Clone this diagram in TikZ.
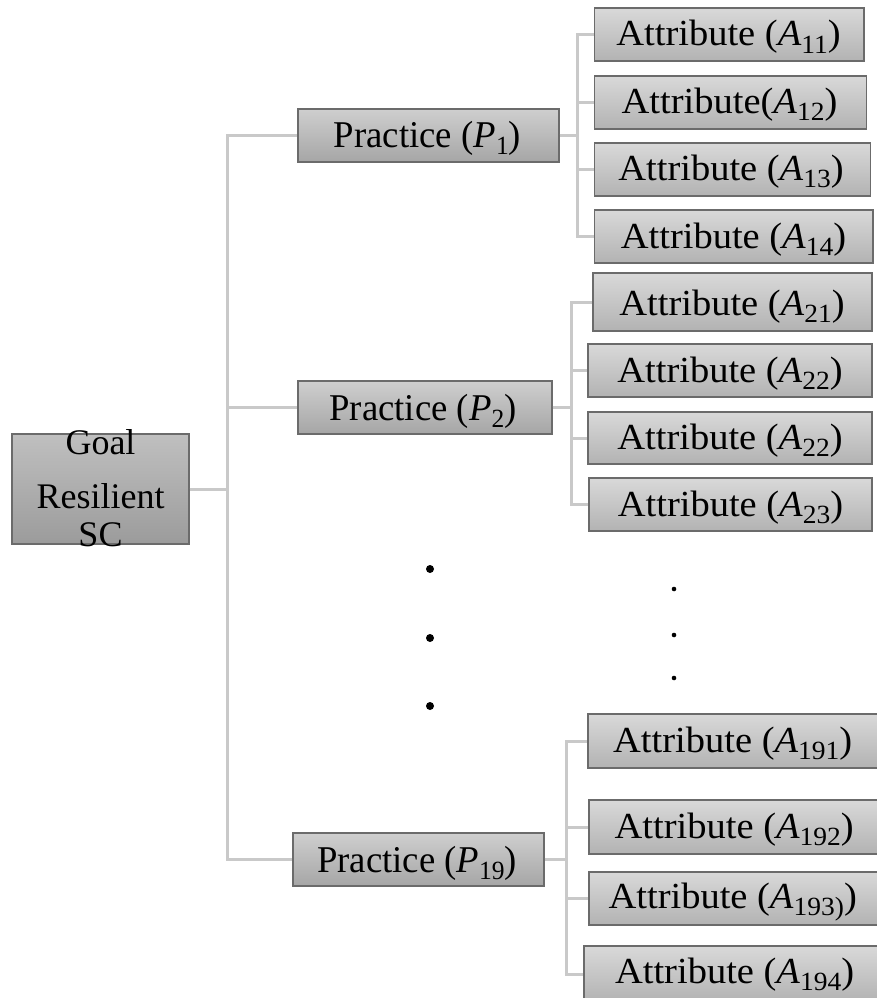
\documentclass[tikz,border=0pt]{standalone}
\usepackage{fontspec}
\usepackage{graphicx}
\setmainfont{Liberation Serif}
\newcommand\Sb[2]{\textit{#1}\raisebox{-0.2em}{\fontsize{25}{25}\selectfont #2}}
\newcommand\Ta[1]{\scalebox{1.1}[1.05]{#1}}
\newcommand\Tp[1]{\scalebox{1.02}[1.05]{#1}}
\begin{document}
\begin{tikzpicture}[x=1pt,y=-1pt,
  boxbase/.style={draw=black!58, line width=1.1pt, inner sep=0pt, rectangle},
  goalbox/.style={boxbase, top color=black!25, bottom color=black!39},
  pracbox/.style={boxbase, top color=black!19, bottom color=black!35},
  attrbox/.style={boxbase, top color=black!15, bottom color=black!30},
  txt/.style={inner sep=0pt, font=\fontsize{35}{40}\selectfont, anchor=base},
  ptxt/.style={inner sep=0pt, font=\fontsize{36}{40}\selectfont, anchor=base},
  goaltxt/.style={inner sep=0pt, font=\fontsize{36}{42}\selectfont, anchor=base},
  conn/.style={draw=black!21, line width=3pt}
]
\useasboundingbox (0,0) rectangle (877,998);
\clip (0,0) rectangle (877,998);

% boxes
\node[goalbox, minimum width=177pt, minimum height=110pt] (goal) at (100.5,489) {};
\node[pracbox, minimum width=261pt, minimum height=53pt] (p1) at (428.5,135.5) {};
\node[pracbox, minimum width=254pt, minimum height=53pt] (p2) at (425,407.5) {};
\node[pracbox, minimum width=251pt, minimum height=53pt] (p19) at (418.5,859.5) {};

\node[attrbox, minimum width=269.5pt, minimum height=53pt] (a11) at (729.25,34.5) {};
\node[attrbox, minimum width=272pt, minimum height=53pt] (a12) at (730.5,102.5) {};
\node[attrbox, minimum width=275.8pt, minimum height=53pt] (a13) at (732.4,169.5) {};
\node[attrbox, minimum width=278.5pt, minimum height=53pt] (a14) at (733.75,236.5) {};

\node[attrbox, minimum width=279pt, minimum height=58pt] (a21) at (732.5,302) {};
\node[attrbox, minimum width=284pt, minimum height=53pt] (a22) at (730,370.5) {};
\node[attrbox, minimum width=284pt, minimum height=52pt] (a22b) at (730,438) {};
\node[attrbox, minimum width=283pt, minimum height=53pt] (a23) at (730.5,504.5) {};

\node[attrbox, minimum width=307pt, minimum height=54pt] (a191) at (741.5,741) {};
\node[attrbox, minimum width=306pt, minimum height=54pt] (a192) at (742,827) {};
\node[attrbox, minimum width=306pt, minimum height=53pt] (a193) at (742,898.5) {};
\node[attrbox, minimum width=311pt, minimum height=56pt] (a194) at (739.5,974) {};

% connectors
\coordinate (trunk) at (227,489);
\coordinate (f1) at (577,135.5);
\coordinate (f2) at (571.5,407.5);
\coordinate (f19) at (566,859.5);
\draw[conn] (goal.east) -- (trunk);
\draw[conn] (trunk) |- (p1.west);
\draw[conn] (trunk) |- (p2.west);
\draw[conn] (trunk) |- (p19.west);
\draw[conn] (p1.east) -- (f1);
\foreach \a in {a11,a12,a13,a14} \draw[conn] (f1) |- (\a.west);
\draw[conn] (p2.east) -- (f2);
\foreach \a in {a21,a22,a22b,a23} \draw[conn] (f2) |- (\a.west);
\draw[conn] (p19.east) -- (f19);
\foreach \a in {a191,a192,a193,a194} \draw[conn] (f19) |- (\a.west);

% texts
\node[goaltxt] (g1) at (100.5,454) {Goal};
\node[goaltxt] (g2) at (100.5,508) {Resilient};
\node[goaltxt] (g3) at (100.5,546) {SC};

\node[ptxt] (tp1) at (427.5,147) {\Tp{Practice (\Sb{P}{1})}};
\node[ptxt] (tp2) at (423,420) {\Tp{Practice (\Sb{P}{2})}};
\node[ptxt] (tp19) at (417,872) {\Tp{Practice (\Sb{P}{19})}};

\node[txt] (t11) at (728.5,46) {\Ta{Attribute (\Sb{A}{11})}};
\node[txt] (t12) at (729.5,113) {\Ta{Attribute(\Sb{A}{12})}};
\node[txt] (t13) at (731,180) {\Ta{Attribute (\Sb{A}{13})}};
\node[txt] (t14) at (733.5,248) {\Ta{Attribute (\Sb{A}{14})}};

\node[txt] (t21) at (732,315) {\Ta{Attribute (\Sb{A}{21})}};
\node[txt] (t22) at (730,382) {\Ta{Attribute (\Sb{A}{22})}};
\node[txt] (t22b) at (730,449) {\Ta{Attribute (\Sb{A}{22})}};
\node[txt] (t23) at (730.5,516) {\Ta{Attribute (\Sb{A}{23})}};

\node[txt] (t191) at (732.7,752.5) {\Ta{Attribute (\Sb{A}{191})}};
\node[txt] (t192) at (734.2,838) {\Ta{Attribute (\Sb{A}{192})}};
\node[txt] (t193) at (732.7,908) {\Ta{Attribute (\Sb{A}{193)})}};
\node[txt] (t194) at (734.6,983) {\Ta{Attribute (\Sb{A}{194})}};

% ellipsis dots
\foreach \y in {569,638,706} \fill (430,\y) circle (4pt);
\foreach \y in {589,635,678} \fill (674,\y) circle (2.3pt);
\end{tikzpicture}
\end{document}
